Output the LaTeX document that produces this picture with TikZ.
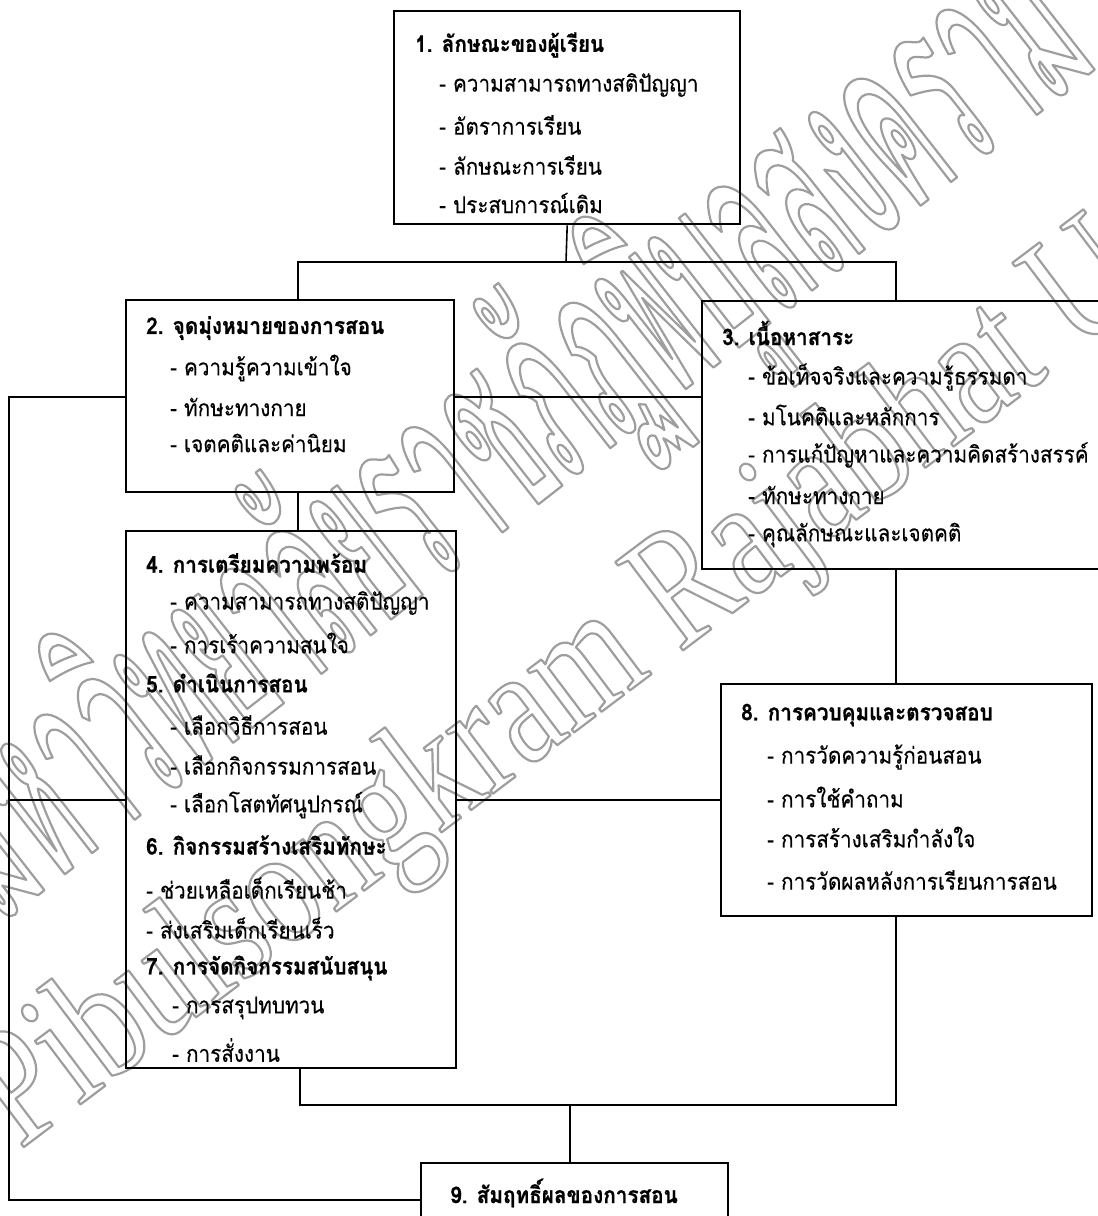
\documentclass[tikz,border=0pt]{standalone}
\usepackage{fontspec}
\newfontfamily\thai[Script=Thai, FakeStretch=0.9, BoldFeatures={FakeBold=0.7}]{Loma}
\newfontfamily\thaireg[Script=Thai, FakeStretch=0.9, FakeBold=0.3]{Loma}
\newfontfamily\wmthai[Script=Thai, FakeStretch=0.40]{Loma}
\newfontfamily\wmlat[FakeStretch=0.77]{Liberation Serif}
\newcommand\wmoutline[1]{\special{pdf:code q 1 Tr 2.2 w 0.62 G 1 j}#1\special{pdf:code Q}}
\begin{document}
\begin{tikzpicture}[x=1pt,y=-1pt,
  box/.style={draw, line width=2.4pt, anchor=north west, inner sep=0pt},
  conn/.style={line width=1.6pt},
  tx/.style={anchor=west, inner sep=0pt, font=\thaireg\fontsize{23}{23}\selectfont},
  ttl/.style={anchor=west, inner sep=0pt, font=\thai\bfseries\fontsize{23}{23}\selectfont},
  wm/.style={anchor=base west, inner sep=0pt}]
\useasboundingbox (0,0) rectangle (1098,1216);
% watermark (hollow grey letters)
\node[wm, rotate=38, font=\wmthai\fontsize{250}{250}\selectfont] (wmth) at (0,925)
  {\wmoutline{มหาวิทยาลัยราชภัฏพิบูลสงคราม}};
\node[wm, rotate=37, font=\wmlat\fontsize{170}{170}\selectfont] (wmen) at (20,1150)
  {\wmoutline{Pibulsongkram Rajabhat University}};
% boxes
\node[box, minimum width=346pt, minimum height=213pt] (b1) at (393,10) {};
\node[box, minimum width=328pt, minimum height=192pt] (b2) at (125,299) {};
\node[box, minimum width=410pt, minimum height=268pt] (b3) at (701,300) {};
\node[box, minimum width=330pt, minimum height=537pt] (b4) at (125,530) {};
\node[box, minimum width=371pt, minimum height=232pt] (b8) at (720,683) {};
\node[box, minimum width=307pt, minimum height=80pt] (b9) at (420,1162) {};
% texts box 1
\node[ttl] (t1) at (415,45) {1. ลักษณะของผู้เรียน};
\node[tx] (t1a) at (439,85) {- ความสามารถทางสติปัญญา};
\node[tx] (t1b) at (439,125) {- อัตราการเรียน};
\node[tx] (t1c) at (439,165) {- ลักษณะการเรียน};
\node[tx] (t1d) at (439,203) {- ประสบการณ์เดิม};
% box 2
\node[ttl] (t2) at (146,328) {2. จุดมุ่งหมายของการสอน};
\node[tx] (t2a) at (170,368) {- ความรู้ความเข้าใจ};
\node[tx] (t2b) at (170,407) {- ทักษะทางกาย};
\node[tx] (t2c) at (170,443) {- เจตคติและค่านิยม};
% box 3
\node[ttl] (t3) at (722,333) {3. เนื้อหาสาระ};
\node[tx] (t3a) at (748,377) {- ข้อเท็จจริงและความรู้ธรรมดา};
\node[tx] (t3b) at (748,415) {- มโนคติและหลักการ};
\node[tx] (t3c) at (748,455) {- การแก้ปัญหาและความคิดสร้างสรรค์};
\node[tx] (t3d) at (748,495) {- ทักษะทางกาย};
\node[tx] (t3e) at (748,535) {- คุณลักษณะและเจตคติ};
% box 4
\node[ttl] (t4) at (146,563) {4. การเตรียมความพร้อม};
\node[tx] (t4a) at (170,603) {- ความสามารถทางสติปัญญา};
\node[tx] (t4b) at (170,643) {- การเร้าความสนใจ};
\node[ttl] (t5) at (146,683) {5. ดำเนินการสอน};
\node[tx] (t5a) at (170,725) {- เลือกวิธีการสอน};
\node[tx] (t5b) at (170,765) {- เลือกกิจกรรมการสอน};
\node[tx] (t5c) at (170,805) {- เลือกโสตทัศนูปกรณ์};
\node[ttl] (t6) at (146,845) {6. กิจกรรมสร้างเสริมทักษะ};
\node[tx] (t6a) at (146,888) {- ช่วยเหลือเด็กเรียนช้า};
\node[tx] (t6b) at (146,928) {- ส่งเสริมเด็กเรียนเร็ว};
\node[ttl] (t7) at (146,968) {7. การจัดกิจกรรมสนับสนุน};
\node[tx] (t7a) at (172,1008) {- การสรุปทบทวน};
\node[tx] (t7b) at (172,1050) {- การสั่งงาน};
% box 8
\node[ttl] (t8) at (741,715) {8. การควบคุมและตรวจสอบ};
\node[tx] (t8a) at (767,757) {- การวัดความรู้ก่อนสอน};
\node[tx] (t8b) at (767,797) {- การใช้คำถาม};
\node[tx] (t8c) at (767,837) {- การสร้างเสริมกำลังใจ};
\node[tx] (t8d) at (767,880) {- การวัดผลหลังการเรียนการสอน};
% box 9
\node[ttl] (t9) at (450,1193) {9. สัมฤทธิ์ผลของการสอน};
% connectors
\coordinate (jt) at (566,262);
\coordinate (jl) at (298,262);
\coordinate (jr) at (896,262);
\coordinate (L1) at (9,397);
\coordinate (L2) at (9,1200);
\coordinate (jb) at (300,1105);
\coordinate (jbr) at (896,1105);
\coordinate (jm) at (570,1105);
\draw[conn] (b1.south) -- (jt);
\draw[conn] (b2.north -| jl) -- (jl) -- (jr) -- (b3.north -| jr);
\draw[conn] (b2.west |- L1) -- (L1) -- (L2) -- (b9.west |- L2);
\draw[conn] (b2.east |- L1) -- (b3.west |- L1);
\draw[conn] (b2.south -| jl) -- (b4.north -| jl);
\draw[conn] (b4.west -| L1) -- (b4.west);
\draw[conn] (b4.east) -- (b4.east -| b8.west);
\draw[conn] (b3.south -| jr) -- (b8.north -| jr);
\draw[conn] (b4.south -| jb) -- (jb) -- (jbr) -- (b8.south -| jbr);
\draw[conn] (jm) -- (b9.north -| jm);
\end{tikzpicture}
\end{document}
